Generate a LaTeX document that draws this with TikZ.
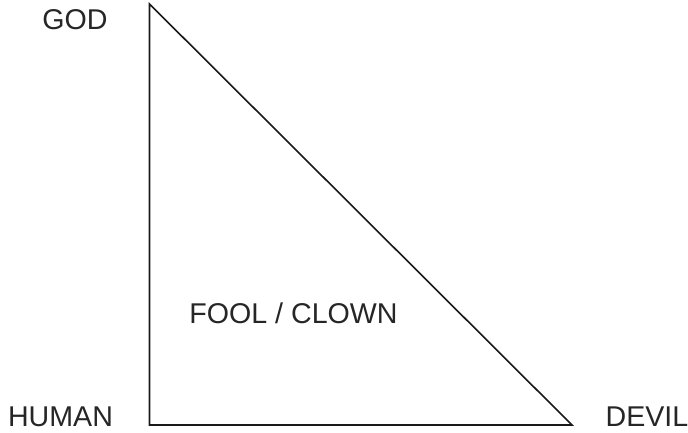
\documentclass[tikz,border=0pt]{standalone}
\usepackage{fontspec}
\setmainfont{Liberation Sans}
\begin{document}
\begin{tikzpicture}[x=1pt,y=1pt,
  lbl/.style={inner sep=0pt,font=\fontsize{28.6}{30}\selectfont,text=black!85},
  edge/.style={line width=1.6pt,black!90,line join=miter}]
\useasboundingbox (0,0) rectangle (688,432);
\coordinate (top) at (149.5,428);
\coordinate (bl) at (149.5,7);
\coordinate (br) at (572,7);
\draw[edge] (top) -- (bl) -- (br) -- cycle;
\node[lbl] (god) at (75,412.5) {GOD};
\node[lbl] (human) at (60.5,15) {HUMAN};
\node[lbl] (devil) at (647,15) {DEVIL};
\node[lbl] (fool) at (293.5,119) {FOOL / CLOWN};
\end{tikzpicture}
\end{document}
